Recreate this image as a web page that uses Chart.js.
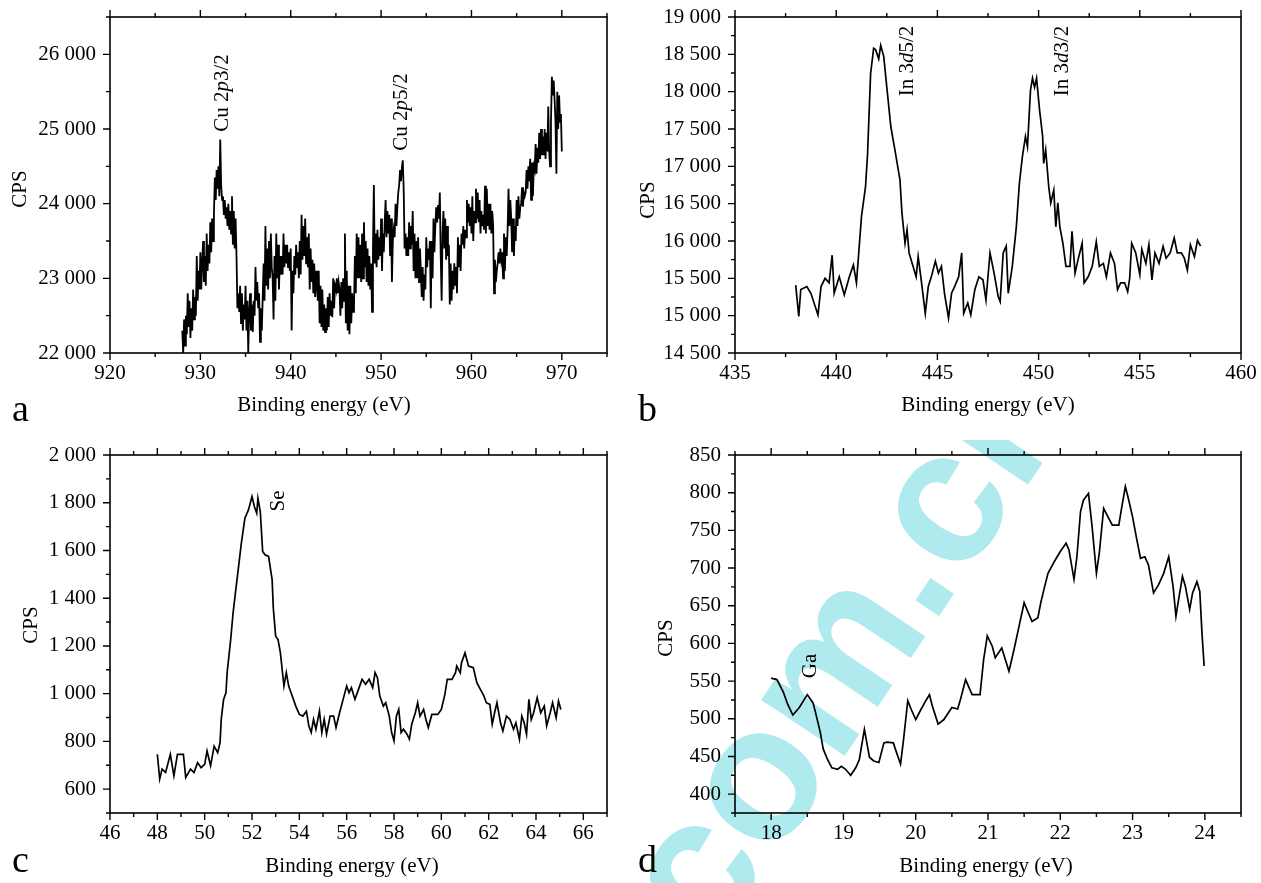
<!DOCTYPE html>
<html>
<head>
<meta charset="utf-8">
<title>XPS spectra</title>
<script src="https://cdn.jsdelivr.net/npm/chart.js@4.4.1/dist/chart.umd.min.js"></script>
<style>
  html, body { margin: 0; padding: 0; background: #fff; }
  body { width: 1261px; height: 883px; position: relative; overflow: hidden; }
  canvas { position: absolute; z-index: 1; }
  #wmBox { position: absolute; left: 0; top: 440px; width: 1261px; height: 443px; overflow: hidden; z-index: 0; }
  #wm {
    position: absolute; white-space: nowrap;
    font: bold 190px "Liberation Sans", Arial, sans-serif; line-height: 1;
    color: #aeeaee; transform-origin: 50% 50%;
  }
</style>
</head>
<body>
<div id="wmBox"><div id="wm">com.cn</div></div>
<canvas id="pa" width="630" height="441" style="left:0px;top:0px"></canvas>
<canvas id="pb" width="631" height="441" style="left:630px;top:0px"></canvas>
<canvas id="pc" width="630" height="442" style="left:0px;top:441px"></canvas>
<canvas id="pd" width="631" height="442" style="left:630px;top:441px"></canvas>
<script>
// ---- (a) Cu 2p region, sampled every 0.1 eV from 928 eV (one row = 1 eV) ----
const aStart = 928, aStep = 0.1;
const aCps = [
  22300, 22000, 22450, 22100, 22500, 22250, 22800, 22350, 22700, 22200,
  22600, 22300, 22850, 22450, 22750, 22500, 23300, 22700, 23100, 22850,
  23350, 22850, 23200, 23500, 22950, 23300, 22900, 23600, 23100, 23450,
  23200, 23750, 23350, 23800, 23500, 23850, 24350, 24050, 24450, 24200,
  24500, 24100, 24860, 24250, 24050, 24100, 23850, 24050, 23800, 23950,
  23700, 24000, 23650, 23900, 23600, 24100, 23450, 23900, 23400, 23800,
  23300, 22600, 22800, 22550, 22900, 22400, 22800, 22300, 22650, 22450,
  22900, 22300, 22700, 22000, 22550, 22800, 22300, 22650, 22280, 22700,
  22500, 23150, 22700, 22950, 22600, 22800, 22150, 22600, 22300, 22750,
  23200, 22700, 23700, 22900, 23400, 22850, 23500, 23000, 23600, 23150,
  23000, 22450, 23300, 22700, 23600, 23000, 23450, 22850, 23300, 23050,
  23300, 23050, 23600, 23150, 23450, 23200, 23450, 23150, 23350, 23100,
  23400, 22300, 23100, 22800, 23300, 23050, 23450, 23150, 23350, 23000,
  23500, 23050, 23850, 23250, 23700, 23300, 23800, 23200, 23550, 23150,
  23600, 22850, 23400, 22950, 23250, 22800, 23200, 22750, 23100, 22900,
  22700, 23100, 22400, 22900, 22350, 22850, 22300, 22650, 22280, 22600,
  22300, 22750, 22350, 22800, 22500, 22700, 22480, 23000, 22600, 22900,
  22850, 23000, 22800, 22950, 22850, 22500, 22950, 22600, 23000, 22700,
  23600, 22400, 23100, 22300, 22900, 22250, 22900, 22400, 22800, 22550,
  22600, 23300, 22800, 23600, 23000, 23550, 23000, 23450, 22950, 23600,
  23000, 23750, 23150, 23500, 22950, 23400, 22900, 23300, 22850, 23200,
  22550, 23400, 24250, 23200, 23600, 23150, 23650, 23250, 23550, 23300,
  23800, 23100, 23600, 23350, 23750, 24050, 23550, 23900, 23600, 23850,
  23300, 23800, 22950, 23500, 23650, 23550, 24000, 23700, 23950, 24150,
  24250, 24450, 24300, 24480, 24580, 24200, 23400, 23600, 23300, 23550,
  23300, 23750, 23400, 23700, 23450, 23900, 23100, 23600, 23000, 23500,
  23000, 23550, 22950, 23400, 23100, 22750, 23150, 22700, 23050, 22850,
  23550, 23150, 23400, 23250, 23500, 22600, 23500, 23000, 23800, 23350,
  23700, 23950, 23750, 23980, 23800, 24150, 23300, 22700, 23600, 23900,
  23400, 23800, 23250, 23700, 23300, 23450, 22650, 23200, 22700, 23100,
  22850, 23200, 22900, 23150, 22800, 23550, 23150, 23450, 23100, 23600,
  23450, 23700, 23400, 23650, 23550, 24050, 23750, 24000, 23700, 23950,
  23600, 24100, 23500, 23900, 23750, 24200, 23800, 24150, 23750, 24050,
  23600, 23900, 23700, 23850, 23650, 24240, 23600, 24200, 23700, 24000,
  23650, 24000, 23600, 23900, 23700, 22800, 23250, 22950, 23100, 23200,
  23350, 23200, 23400, 23250, 23350, 23000, 23600, 23100, 23550, 23300,
  23650, 24200, 23700, 24050, 23800, 23350, 23800, 23300, 23700, 23500,
  24050, 23700, 24100, 23800, 23950, 24000, 24220, 23960, 24150, 24100,
  24150, 24450, 24200, 24500, 24300, 24600, 24050, 24550, 24100, 24500,
  24450, 24800, 24400, 24750, 24550, 24950, 24600, 25000, 24650, 24900,
  24650, 25000, 24600, 24950, 24700, 25300, 24700, 24500, 25100, 25700,
  25450, 25650, 25400, 25100, 24400, 25500, 25000, 25450, 25100, 25200,
  24700
];
const aEnergy = aCps.map((_, i) => aStart + i * aStep);
const aTicksX = [920, 930, 940, 950, 960, 970];
const aTicksY = [22000, 23000, 24000, 25000, 26000];

// ---- (b) In 3d region ----
const bEnergy = [
  438.0, 438.15, 438.25, 438.55, 438.75, 439.1, 439.25, 439.45, 439.65, 439.8,
  439.9, 440.15, 440.4, 440.65, 440.85, 441.0, 441.1, 441.25, 441.45, 441.55,
  441.7, 441.85, 441.95, 442.1, 442.2, 442.35, 442.5, 442.7, 442.9, 443.15,
  443.25, 443.4, 443.5, 443.6, 443.8, 443.95, 444.05, 444.2, 444.4, 444.55,
  444.7, 444.9, 445.05, 445.2, 445.35, 445.55, 445.7, 445.85, 446.05, 446.2,
  446.3, 446.5, 446.65, 446.85, 447.05, 447.25, 447.4, 447.6, 447.8, 448.0,
  448.1, 448.25, 448.4, 448.5, 448.7, 448.9, 449.05, 449.2, 449.35, 449.45,
  449.6, 449.7, 449.8, 449.9, 450.05, 450.2, 450.25, 450.35, 450.5, 450.6,
  450.75, 450.85, 450.95, 451.05, 451.2, 451.35, 451.55, 451.65, 451.8, 451.95,
  452.15, 452.25, 452.45, 452.65, 452.85, 453.0, 453.2, 453.35, 453.55, 453.75,
  453.9, 454.05, 454.25, 454.4, 454.5, 454.6, 454.8, 455.0, 455.1, 455.3,
  455.45, 455.6, 455.75, 455.95, 456.15, 456.3, 456.5, 456.7, 456.85, 457.05,
  457.2, 457.35, 457.5, 457.7, 457.85, 458.0
];
const bCps = [
  15410, 14990, 15350, 15390, 15300, 15010, 15390, 15500, 15440, 15810,
  15300, 15520, 15280, 15520, 15680, 15440, 15790, 16330, 16730, 17170,
  18240, 18580, 18560, 18440, 18620, 18470, 18060, 17530, 17220, 16820,
  16370, 15970, 16150, 15840, 15660, 15520, 15790, 15480, 15030, 15390,
  15520, 15730, 15570, 15660, 15300, 14970, 15300, 15390, 15520, 15840,
  15030, 15170, 15010, 15350, 15520, 15480, 15210, 15840, 15570, 15260,
  15190, 15840, 15930, 15300, 15660, 16190, 16770, 17130, 17400, 17260,
  18020, 18180, 18060, 18180, 17750, 17400, 17040, 17220, 16730, 16510,
  16680, 16190, 16510, 16190, 15970, 15660, 15660, 16130, 15570, 15750,
  15970, 15440, 15520, 15660, 15990, 15660, 15700, 15520, 15840, 15700,
  15350, 15440, 15440, 15320, 15500, 15970, 15840, 15550, 15890, 15700,
  15950, 15480, 15840, 15700, 15930, 15770, 15840, 16040, 15840, 15840,
  15770, 15610, 15950, 15790, 16010, 15930
];
const bTicksX = [435, 440, 445, 450, 455, 460];
const bTicksY = [14500, 15000, 15500, 16000, 16500, 17000, 17500, 18000, 18500, 19000];

// ---- (c) Se 3d region ----
const cEnergy = [
  48.0, 48.1, 48.2, 48.35, 48.55, 48.7, 48.85, 49.1, 49.2, 49.4,
  49.55, 49.7, 49.85, 50.0, 50.1, 50.25, 50.4, 50.55, 50.65, 50.7,
  50.8, 50.9, 50.95, 51.1, 51.2, 51.3, 51.45, 51.55, 51.7, 51.85,
  52.0, 52.1, 52.2, 52.25, 52.35, 52.45, 52.55, 52.7, 52.85, 52.9,
  53.0, 53.1, 53.2, 53.35, 53.45, 53.55, 53.7, 53.85, 54.0, 54.15,
  54.3, 54.4, 54.5, 54.6, 54.7, 54.85, 54.95, 55.05, 55.15, 55.3,
  55.45, 55.55, 55.7, 55.85, 56.0, 56.1, 56.2, 56.35, 56.5, 56.65,
  56.8, 56.95, 57.1, 57.2, 57.3, 57.4, 57.55, 57.65, 57.8, 57.9,
  58.0, 58.1, 58.2, 58.3, 58.4, 58.55, 58.65, 58.75, 58.9, 59.0,
  59.1, 59.25, 59.35, 59.45, 59.6, 59.85, 60.0, 60.15, 60.25, 60.45,
  60.6, 60.65, 60.8, 60.85, 61.0, 61.15, 61.35, 61.5, 61.65, 61.8,
  61.9, 62.05, 62.15, 62.25, 62.35, 62.5, 62.6, 62.75, 62.9, 63.05,
  63.15, 63.3, 63.4, 63.5, 63.6, 63.7, 63.8, 63.9, 64.05, 64.2,
  64.35, 64.45, 64.6, 64.7, 64.85, 64.95, 65.05
];
const cCps = [
  746, 642, 684, 670, 746, 656, 746, 746, 649, 684,
  670, 711, 690, 704, 760, 698, 780, 753, 795, 892,
  976, 1004, 1088, 1227, 1338, 1422, 1547, 1631, 1735, 1770,
  1826, 1784, 1756, 1819, 1763, 1596, 1582, 1575, 1478, 1359,
  1241, 1227, 1171, 1032, 1088, 1032, 990, 948, 913, 906,
  927, 865, 837, 892, 851, 927, 837, 892, 830, 906,
  906, 858, 920, 976, 1032, 1004, 1025, 976, 1018, 1060,
  1039, 1060, 1025, 1088, 1067, 990, 948, 962, 906, 837,
  802, 906, 934, 837, 851, 830, 809, 872, 920, 962,
  906, 934, 892, 858, 913, 913, 934, 997, 1060, 1060,
  1088, 1116, 1088, 1129, 1171, 1116, 1109, 1046, 1018, 990,
  962, 955, 872, 920, 962, 878, 844, 906, 892, 851,
  878, 809, 906, 878, 830, 976, 892, 920, 983, 920,
  948, 865, 920, 962, 899, 969, 934
];
const cTicksX = [46, 48, 50, 52, 54, 56, 58, 60, 62, 64, 66];
const cTicksY = [600, 800, 1000, 1200, 1400, 1600, 1800, 2000];

// ---- (d) Ga 3d region ----
const dEnergy = [
  18.0, 18.08, 18.17, 18.23, 18.3, 18.39, 18.5, 18.58, 18.62, 18.68,
  18.72, 18.78, 18.84, 18.92, 18.97, 19.03, 19.1, 19.17, 19.22, 19.29,
  19.36, 19.42, 19.49, 19.56, 19.6, 19.69, 19.75, 19.79, 19.83, 19.89,
  19.94, 20.0, 20.07, 20.14, 20.19, 20.23, 20.31, 20.39, 20.5, 20.58,
  20.62, 20.69, 20.78, 20.89, 20.94, 20.99, 21.06, 21.1, 21.19, 21.29,
  21.36, 21.43, 21.5, 21.56, 21.61, 21.69, 21.73, 21.78, 21.83, 21.92,
  22.0, 22.08, 22.12, 22.19, 22.23, 22.28, 22.32, 22.39, 22.44, 22.5,
  22.54, 22.6, 22.66, 22.72, 22.81, 22.84, 22.9, 22.94, 23.0, 23.06,
  23.11, 23.17, 23.22, 23.29, 23.36, 23.43, 23.5, 23.56, 23.6, 23.64,
  23.69, 23.73, 23.79, 23.83, 23.89, 23.93, 23.96, 23.99
];
const dCps = [
  554, 552, 535, 519, 505, 515, 532, 521, 506, 482,
  460, 446, 435, 433, 437, 433, 425, 435, 446, 486,
  449, 444, 442, 468, 469, 468, 451, 440, 471, 524,
  512, 499, 512, 524, 532, 517, 493, 499, 515, 513,
  526, 552, 532, 532, 579, 610, 596, 581, 594, 563,
  592, 623, 654, 640, 629, 634, 654, 674, 693, 709,
  722, 733, 724, 685, 715, 775, 790, 799, 755, 693,
  720, 779, 768, 757, 757, 775, 808, 793, 768, 737,
  713, 715, 704, 667, 678, 693, 715, 676, 636, 660,
  689, 676, 645, 667, 682, 669, 614, 570
];
const dTicksX = [18, 19, 20, 21, 22, 23, 24];
const dTicksY = [400, 450, 500, 550, 600, 650, 700, 750, 800, 850];

// ---- drawing ----
const SERIF = '"Liberation Serif", "Times New Roman", serif';
const FONT = { family: SERIF, size: 21 };
Chart.defaults.font.family = SERIF;

// thousands separated by a space, e.g. 26 000
const fmt = v => {
  const s = String(Math.round(v));
  return s.length > 3 ? s.slice(0, -3) + ' ' + s.slice(-3) : s;
};

// text made of runs with different styles, centred on (cx, cy) and turned by angle
function drawRuns(ctx, runs, cx, cy, angle) {
  ctx.save();
  ctx.translate(cx, cy);
  ctx.rotate(angle);
  ctx.textBaseline = 'middle';
  ctx.textAlign = 'left';
  const widths = runs.map(r => { ctx.font = r.font; return ctx.measureText(r.text).width; });
  let x = -widths.reduce((s, w) => s + w, 0) / 2;
  runs.forEach((r, i) => { ctx.font = r.font; ctx.fillText(r.text, x, 0); x += widths[i]; });
  ctx.restore();
}

const UP = '21px ' + SERIF;
const IT = 'italic 21px ' + SERIF;

// frame, outward ticks (major and minor), axis titles, peak labels, panel letter
function decor(p) {
  return {
    id: 'decor',
    afterDraw(chart) {
      const { ctx, chartArea: a, scales: { x, y } } = chart;
      ctx.save();
      ctx.strokeStyle = '#000';
      ctx.fillStyle = '#000';
      ctx.lineWidth = 1.6;
      ctx.strokeRect(a.left, a.top, a.right - a.left, a.bottom - a.top);

      const marks = (scale, minor, major) => {
        const n = Math.round((scale.max - scale.min) / minor);
        const out = [];
        for (let i = 0; i <= n; i++) {
          const v = scale.min + i * minor;
          const q = v / major;
          out.push([scale.getPixelForValue(v), Math.abs(q - Math.round(q)) < 1e-6]);
        }
        return out;
      };
      ctx.lineWidth = 1.4;
      ctx.beginPath();
      for (const [px, major] of marks(x, p.xMinor, p.xMajor)) {
        const len = major ? 7 : 4;
        ctx.moveTo(px, a.bottom); ctx.lineTo(px, a.bottom + len);
        ctx.moveTo(px, a.top); ctx.lineTo(px, a.top - len);
      }
      for (const [py, major] of marks(y, p.yMinor, p.yMajor)) {
        const len = major ? 7 : 4;
        ctx.moveTo(a.left, py); ctx.lineTo(a.left - len, py);
      }
      ctx.stroke();

      drawRuns(ctx, [{ text: 'Binding energy (eV)', font: UP }], p.xTitle[0], p.xTitle[1], 0);
      drawRuns(ctx, [{ text: 'CPS', font: UP }], p.yTitle[0], p.yTitle[1], -Math.PI / 2);
      p.notes.forEach(n => drawRuns(ctx, n.runs, n.at[0], n.at[1], -Math.PI / 2));

      ctx.font = '38px ' + SERIF;
      ctx.textAlign = 'left';
      ctx.textBaseline = 'alphabetic';
      ctx.fillText(p.letter, p.letterAt[0], p.letterAt[1]);
      ctx.restore();
    }
  };
}

function panel(id, p) {
  const points = p.energy.map((e, i) => ({ x: e, y: p.cps[i] }));
  const axis = (ticks, min, max, pad) => ({
    type: 'linear', min, max,
    grid: { display: false, drawTicks: false },
    border: { display: false },
    afterBuildTicks: ax => { ax.ticks = ticks.map(v => ({ value: v })); },
    ticks: { font: FONT, color: '#000', padding: pad, autoSkip: false, maxRotation: 0, callback: v => fmt(v) }
  });
  const xs = axis(p.ticksX, p.xMin, p.xMax, 8);
  xs.afterFit = ax => { ax.height = p.xAxisH; ax.paddingLeft = 0; ax.paddingRight = 0; };
  const ys = axis(p.ticksY, p.yMin, p.yMax, 14);
  ys.afterFit = ax => { ax.width = p.yAxisW; ax.paddingTop = 0; ax.paddingBottom = 0; };
  return new Chart(document.getElementById(id), {
    type: 'scatter',
    data: { datasets: [{
      data: points, showLine: true, pointRadius: 0, pointHoverRadius: 0,
      borderColor: '#000', borderWidth: p.lw, tension: 0, fill: false
    }] },
    options: {
      responsive: false, animation: false, devicePixelRatio: 1, events: [],
      layout: { padding: p.pad },
      plugins: { legend: { display: false }, tooltip: { enabled: false } },
      scales: { x: xs, y: ys }
    },
    plugins: [decor(p)]
  });
}

panel('pa', {
  energy: aEnergy, cps: aCps, ticksX: aTicksX, ticksY: aTicksY,
  xMin: 920, xMax: 975, yMin: 22000, yMax: 26500,
  xMinor: 5, xMajor: 10, yMinor: 500, yMajor: 1000, lw: 1.8,
  pad: { left: 0, top: 17, right: 23, bottom: 0 }, yAxisW: 110, xAxisH: 88,
  xTitle: [324, 405], yTitle: [20, 189], letter: 'a', letterAt: [12, 421],
  notes: [
    { at: [222, 93], runs: [{ text: 'Cu 2', font: UP }, { text: 'p', font: IT }, { text: '3/2', font: UP }] },
    { at: [401, 112], runs: [{ text: 'Cu 2', font: UP }, { text: 'p', font: IT }, { text: '5/2', font: UP }] }
  ]
});

panel('pb', {
  energy: bEnergy, cps: bCps, ticksX: bTicksX, ticksY: bTicksY,
  xMin: 435, xMax: 460, yMin: 14500, yMax: 19000,
  xMinor: 2.5, xMajor: 5, yMinor: 250, yMajor: 500, lw: 1.7,
  pad: { left: 0, top: 17, right: 20, bottom: 0 }, yAxisW: 105, xAxisH: 88,
  xTitle: [358, 405], yTitle: [18, 200], letter: 'b', letterAt: [8, 421],
  notes: [
    { at: [277, 61], runs: [{ text: 'In 3', font: UP }, { text: 'd', font: IT }, { text: '5/2', font: UP }] },
    { at: [432, 61], runs: [{ text: 'In 3', font: UP }, { text: 'd', font: IT }, { text: '3/2', font: UP }] }
  ]
});

panel('pc', {
  energy: cEnergy, cps: cCps, ticksX: cTicksX, ticksY: cTicksY,
  xMin: 46, xMax: 67, yMin: 500, yMax: 2000,
  xMinor: 1, xMajor: 2, yMinor: 100, yMajor: 200, lw: 1.7,
  pad: { left: 0, top: 14, right: 23, bottom: 0 }, yAxisW: 110, xAxisH: 70,
  xTitle: [352, 425], yTitle: [31, 184], letter: 'c', letterAt: [12, 431],
  notes: [
    { at: [278, 60], runs: [{ text: 'Se', font: UP }] }
  ]
});

panel('pd', {
  energy: dEnergy, cps: dCps, ticksX: dTicksX, ticksY: dTicksY,
  xMin: 17.5, xMax: 24.5, yMin: 375, yMax: 850,
  xMinor: 0.5, xMajor: 1, yMinor: 25, yMajor: 50, lw: 1.7,
  pad: { left: 0, top: 14, right: 20, bottom: 0 }, yAxisW: 105, xAxisH: 70,
  xTitle: [356, 425], yTitle: [36, 197], letter: 'd', letterAt: [8, 431],
  notes: [
    { at: [180, 225], runs: [{ text: 'Ga', font: UP }] }
  ]
});

// diagonal site mark across the lower half
const wm = document.getElementById('wm');
const w = wm.offsetWidth, h = wm.offsetHeight;
wm.style.left = (844 - w / 2) + 'px';
wm.style.top = (638 - 440 - h / 2) + 'px';
wm.style.transform = 'rotate(-56deg)';
</script>
</body>
</html>
